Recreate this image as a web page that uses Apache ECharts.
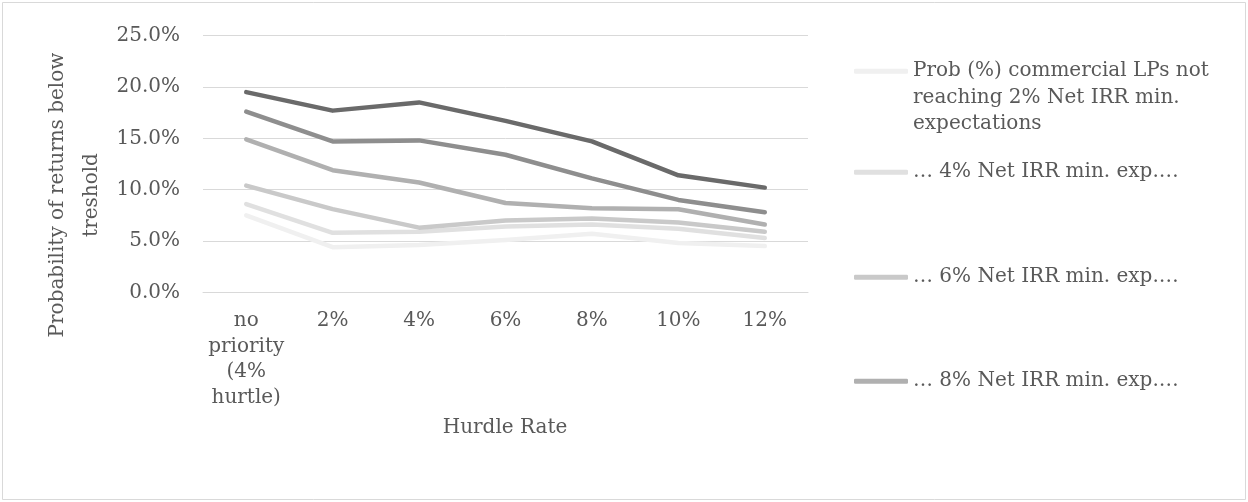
<!DOCTYPE html>
<html>
<head>
<meta charset="utf-8">
<script src="https://cdn.jsdelivr.net/npm/echarts@6/dist/echarts.min.js"></script>
<style>
html,body{margin:0;padding:0;background:#fff;}
#chart{width:1248px;height:502px;}
</style>
</head>
<body>
<div id="chart"></div>
<script>
var categories = ['no\npriority\n(4%\nhurtle)', '2%', '4%', '6%', '8%', '10%', '12%'];
var yTicks = [0, 5, 10, 15, 20, 25];
var seriesNames = [
  'Prob (%) commercial LPs not reaching 2% Net IRR min. expectations',
  '\u2026 4% Net IRR min. exp.\u2026',
  '\u2026 6% Net IRR min. exp.\u2026',
  '\u2026 8% Net IRR min. exp.\u2026',
  '\u2026 10% Net IRR min. exp.\u2026',
  '\u2026 12% Net IRR min. exp.\u2026'
];
var s2 = [7.5, 4.4, 4.6, 5.1, 5.7, 4.8, 4.5];
var s4 = [8.6, 5.8, 5.9, 6.4, 6.6, 6.2, 5.3];
var s6 = [10.4, 8.1, 6.3, 7.0, 7.2, 6.8, 5.9];
var s8 = [14.9, 11.9, 10.7, 8.7, 8.2, 8.1, 6.6];
var s10 = [17.6, 14.7, 14.8, 13.4, 11.1, 9.0, 7.8];
var s12 = [19.5, 17.7, 18.5, 16.7, 14.7, 11.4, 10.2];
var seriesData = [s2, s4, s6, s8, s10, s12];
var colors = ['#f0f0f0', '#e0e0e0', '#c9c9c9', '#b0b0b0', '#8e8e8e', '#6a6a6a'];

var FONT = '"DejaVu Serif", serif';
var FS = 20;
var TXT = '#595959';

var chart = echarts.init(document.getElementById('chart'), null, {renderer: 'canvas'});

var legendTops = [5, 159, 264, 368];
var legends = [];
for (var i = 0; i < 4; i++) {
  var lg = {
    data: [seriesNames[i]],
    left: 854,
    top: legendTops[i],
    orient: 'vertical',
    icon: 'roundRect',
    itemWidth: 54,
    itemHeight: 5,
    itemGap: 5,
    padding: 0,
    selectedMode: false,
    textStyle: {fontFamily: FONT, fontSize: FS, color: TXT, lineHeight: 26.5}
  };
  if (i === 0) {
    lg.textStyle.width = 325;
    lg.textStyle.overflow = 'break';
    lg.formatter = function (name) { return '\n\n' + name; };
  }
  legends.push(lg);
}

var series = [];
for (var j = 0; j < seriesData.length; j++) {
  series.push({
    name: seriesNames[j],
    type: 'line',
    data: seriesData[j],
    symbol: 'none',
    smooth: false,
    color: colors[j],
    lineStyle: {width: 4.5, color: colors[j], cap: 'round', join: 'round'},
    itemStyle: {color: colors[j]},
    emphasis: {disabled: true},
    animation: false
  });
}

chart.setOption({
  animation: false,
  backgroundColor: '#ffffff',
  textStyle: {fontFamily: FONT},
  grid: {left: 203, right: 440, top: 35.7, bottom: 209.7, containLabel: false},
  legend: legends,
  xAxis: {
    type: 'category',
    data: categories,
    boundaryGap: true,
    axisTick: {show: false},
    axisLine: {show: true, lineStyle: {color: '#d9d9d9', width: 1}},
    axisLabel: {fontFamily: FONT, fontSize: FS, color: TXT, lineHeight: 25.5, margin: 16, interval: 0}
  },
  yAxis: {
    type: 'value',
    min: yTicks[0],
    max: yTicks[yTicks.length - 1],
    interval: 5,
    axisLine: {show: false},
    axisTick: {show: false},
    splitLine: {lineStyle: {color: '#d9d9d9', width: 1}},
    axisLabel: {fontFamily: FONT, fontSize: FS, color: TXT, margin: 23,
      formatter: function (v) { return v.toFixed(1) + '%'; }}
  },
  graphic: [
    {type: 'rect', shape: {x: 2.5, y: 2.5, width: 1243, height: 497}, style: {fill: 'none', stroke: '#d9d9d9', lineWidth: 1}, silent: true},
    {type: 'text', x: 505, y: 428, style: {text: 'Hurdle Rate', fontFamily: FONT, fontSize: FS, fill: TXT, align: 'center', verticalAlign: 'middle'}},
    {type: 'text', x: 75, y: 195, rotation: Math.PI / 2, style: {text: 'Probability of returns below\ntreshold', fontFamily: FONT, fontSize: FS, lineHeight: 34, fill: TXT, align: 'center', verticalAlign: 'middle'}}
  ],
  series: series
});
</script>
</body>
</html>
